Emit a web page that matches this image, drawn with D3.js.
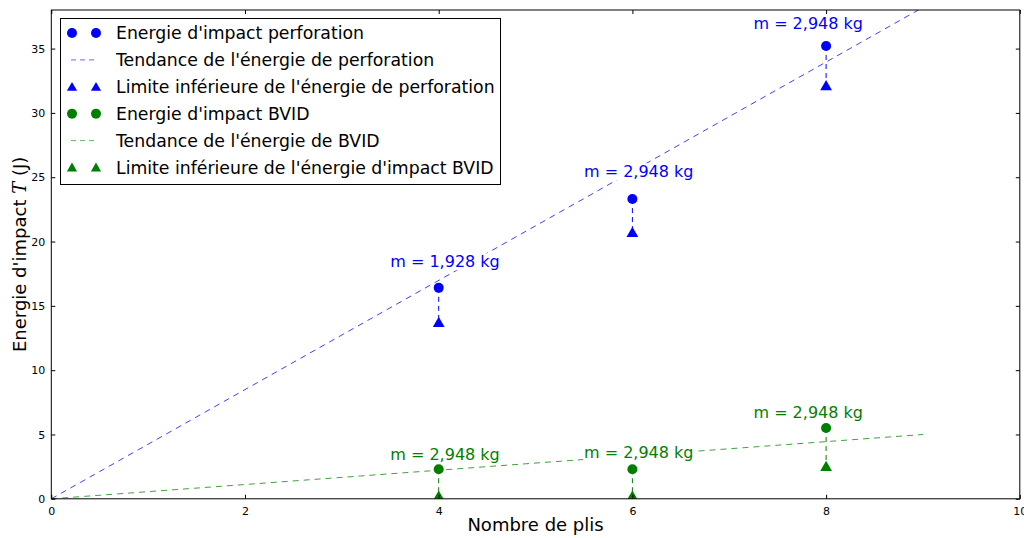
<!DOCTYPE html>
<html><head><meta charset="utf-8">
<script src="https://cdn.jsdelivr.net/npm/d3@7"></script>
<style>body{margin:0;background:#fff}svg{display:block}text{font-family:"DejaVu Sans",sans-serif}</style>
</head><body><svg id="c" width="1024" height="538"></svg>
<script>
const plis = [4, 6, 8];
const perfEnergy = [16.4, 23.3, 35.2];
const perfLower = [13.7, 20.7, 32.1];
const bvidEnergy = [2.3, 2.3, 5.5];
const bvidLower = [0.2, 0.2, 2.5];
const perfTrendX = [0, 9];
const perfTrendY = [0, 38.2];
const bvidTrendX = [0, 9];
const bvidTrendY = [0, 5.0];
const perfLabels = ["m = 1,928 kg", "m = 2,948 kg", "m = 2,948 kg"];
const perfLabelX = [3.5, 5.5, 7.25];
const perfLabelY = [18.0, 25.0, 36.5];
const bvidLabels = ["m = 2,948 kg", "m = 2,948 kg", "m = 2,948 kg"];
const bvidLabelX = [3.5, 5.5, 7.25];
const bvidLabelY = [3.0, 3.2, 6.3];
const xTicks = [0, 2, 4, 6, 8, 10];
const yTicks = [0, 5, 10, 15, 20, 25, 30, 35];
const legendLabels = ["Energie d'impact perforation", "Tendance de l'énergie de perforation",
  "Limite inférieure de l'énergie de perforation", "Energie d'impact BVID",
  "Tendance de l'énergie de BVID", "Limite inférieure de l'énergie d'impact BVID"];

const BLUE = "#0000ff", GREEN = "#007f00";
const L = 51.3, R = 1019.8, T = 10, B = 498.8;
const svg = d3.select("#c");
const x = d3.scaleLinear().domain([0, 10]).range([L, R]);
const y = d3.scaleLinear().domain([0, 38]).range([B, T]);

svg.append("defs").append("clipPath").attr("id", "clip").append("rect")
  .attr("x", L).attr("y", T).attr("width", R - L).attr("height", B - T);
const g = svg.append("g").attr("clip-path", "url(#clip)");

// trend lines
const line = d3.line().x(d => x(d[0])).y(d => y(d[1]));
g.append("path").datum(d3.zip(perfTrendX, perfTrendY)).attr("d", line)
  .attr("stroke", BLUE).attr("stroke-opacity", 0.75).attr("stroke-width", 1).attr("stroke-dasharray", "6,5").attr("fill", "none");
g.append("path").datum(d3.zip(bvidTrendX, bvidTrendY)).attr("d", line)
  .attr("stroke", GREEN).attr("stroke-opacity", 0.75).attr("stroke-width", 1).attr("stroke-dasharray", "6,5").attr("fill", "none");

// connector lines
function connectors(top, bot, col) {
  g.selectAll(null).data(plis.map((p, i) => [p, top[i], bot[i]])).enter().append("line")
    .attr("x1", d => x(d[0])).attr("x2", d => x(d[0]))
    .attr("y1", d => y(d[1])).attr("y2", d => y(d[2]))
    .attr("stroke", col).attr("stroke-width", 1).attr("stroke-dasharray", "5,4");
}
connectors(perfEnergy, perfLower, BLUE);
connectors(bvidEnergy, bvidLower, GREEN);

const tri = d3.symbol().type(d3.symbolTriangle).size(60);

// labels with white background
function labels(txts, lx, ly, col) {
  txts.forEach((t, i) => {
    const tg = svg.append("g");
    const te = tg.append("text").attr("x", x(lx[i])).attr("y", y(ly[i])).attr("fill", col)
      .attr("font-size", 16).text(t);
    const bb = te.node().getBBox();
    tg.insert("rect", "text").attr("x", bb.x - 1).attr("y", bb.y + 1).attr("width", bb.width + 2).attr("height", bb.height - 2).attr("fill", "#fff");
  });
}
labels(perfLabels, perfLabelX, perfLabelY, BLUE);
labels(bvidLabels, bvidLabelX, bvidLabelY, GREEN);
const g2 = svg.append("g").attr("clip-path", "url(#clip)");
function markers(vals, col, kind) {
  const sel = g2.selectAll(null).data(plis.map((p, i) => [p, vals[i]])).enter();
  if (kind === "c") sel.append("circle").attr("cx", d => x(d[0])).attr("cy", d => y(d[1])).attr("r", 5).attr("fill", col);
  else sel.append("path").attr("d", tri).attr("transform", d => `translate(${x(d[0])},${y(d[1]) + 1})`).attr("fill", col);
}
markers(perfEnergy, BLUE, "c");
markers(perfLower, BLUE, "t");
markers(bvidEnergy, GREEN, "c");
markers(bvidLower, GREEN, "t");

// frame
svg.append("rect").attr("x", L).attr("y", T).attr("width", R - L).attr("height", B - T)
  .attr("fill", "none").attr("stroke", "#000").attr("stroke-width", 1);

// axes (ticks inside)
const xb = svg.append("g").attr("transform", `translate(0,${B})`)
  .call(d3.axisBottom(x).tickValues(xTicks).tickSize(-4).tickPadding(8).tickFormat(d3.format("d")));
const xt = svg.append("g").attr("transform", `translate(0,${T})`)
  .call(d3.axisTop(x).tickValues(xTicks).tickSize(-4).tickFormat(""));
const yl = svg.append("g").attr("transform", `translate(${L},0)`)
  .call(d3.axisLeft(y).tickValues(yTicks).tickSize(-4).tickPadding(6).tickFormat(d3.format("d")));
const yr = svg.append("g").attr("transform", `translate(${R},0)`)
  .call(d3.axisRight(y).tickValues(yTicks).tickSize(-4).tickFormat(""));
[xb, xt, yl, yr].forEach(a => {
  a.select(".domain").remove();
  a.selectAll("text").attr("font-size", 11).attr("font-family", "DejaVu Sans").attr("fill", "#000");
  a.selectAll("line").attr("stroke", "#000");
});

// axis labels
svg.append("text").attr("x", (L + R) / 2).attr("y", 531).attr("text-anchor", "middle")
  .attr("font-size", 18).text("Nombre de plis");
const yt = svg.append("text").attr("transform", `translate(26,${(T + B) / 2}) rotate(-90)`)
  .attr("text-anchor", "middle").attr("font-size", 18);
yt.append("tspan").text("Energie d'impact ");
yt.append("tspan").attr("font-family", "DejaVu Serif").attr("font-style", "italic").text("T");
yt.append("tspan").text(" (J)");

// legend
const lg = svg.append("g");
lg.append("rect").attr("x", 60.5).attr("y", 18.5).attr("width", 440).attr("height", 166)
  .attr("fill", "#fff").attr("stroke", "#000").attr("stroke-width", 1);
const kinds = ["c", "l", "t", "c", "l", "t"];
const cols = [BLUE, BLUE, BLUE, GREEN, GREEN, GREEN];
legendLabels.forEach((t, i) => {
  const cy = 33 + i * 26.9;
  if (kinds[i] === "c") {
    [72, 96].forEach(cx => lg.append("circle").attr("cx", cx).attr("cy", cy).attr("r", 5).attr("fill", cols[i]));
  } else if (kinds[i] === "t") {
    [72, 96].forEach(cx => lg.append("path").attr("d", d3.symbol().type(d3.symbolTriangle).size(45)).attr("transform", `translate(${cx},${cy + 1})`).attr("fill", cols[i]));
  } else {
    lg.append("line").attr("x1", 71).attr("x2", 97).attr("y1", cy).attr("y2", cy)
      .attr("stroke", cols[i]).attr("stroke-opacity", 0.6).attr("stroke-dasharray", "5,4");
  }
  lg.append("text").attr("x", 116).attr("y", cy + 6).attr("font-size", 17.3).text(t);
});
</script></body></html>
